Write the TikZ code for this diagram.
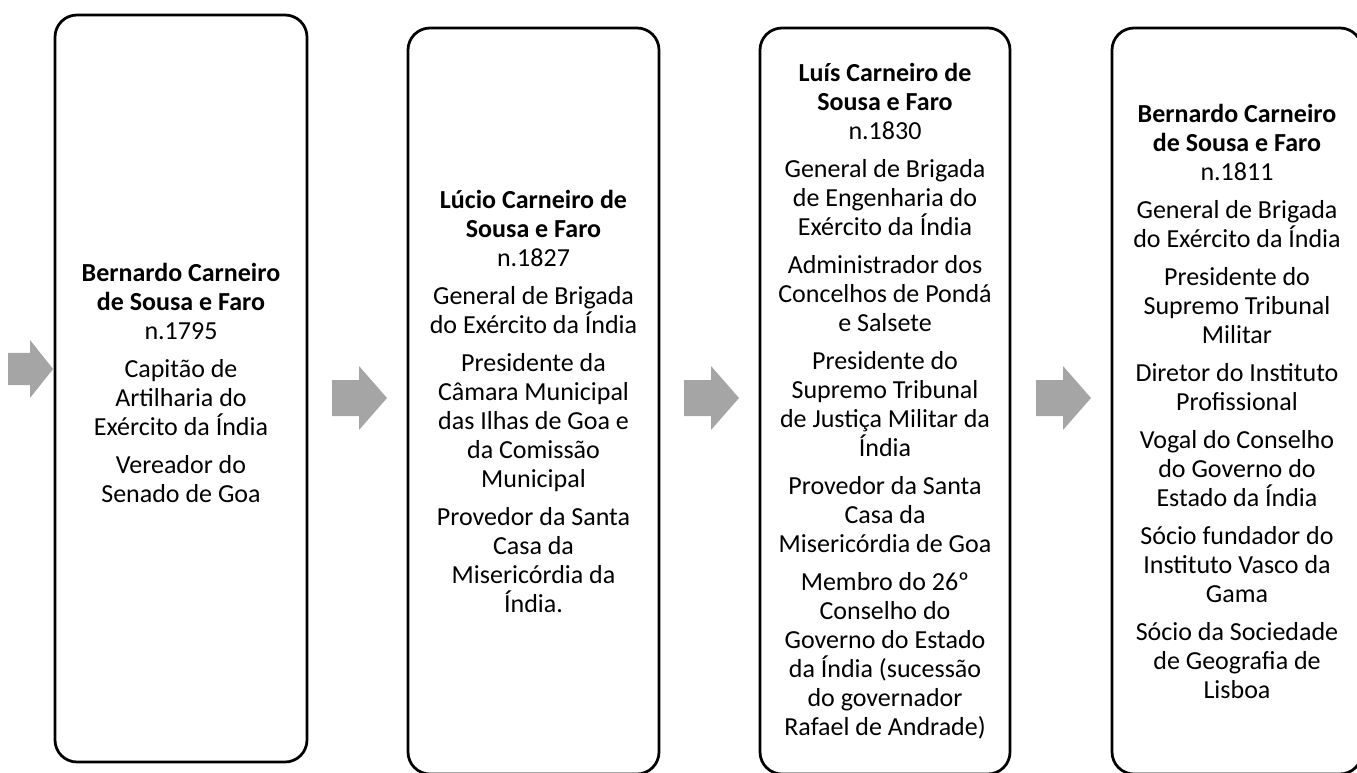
\documentclass[tikz,border=0pt]{standalone}
\usepackage{fontspec}
\setmainfont{Carlito}
\usetikzlibrary{positioning}
\definecolor{setagray}{HTML}{A5A5A5}

\begin{document}
\begin{tikzpicture}[x=1pt, y=-1pt,
    pessoa/.style={draw=black, line width=2.75pt, rounded corners=22pt, align=center,
        minimum width=250pt, minimum height=746pt, inner sep=0pt,
        font=\fontsize{26}{29}\selectfont},
    texto/.style={align=center, inner sep=0pt, font=\fontsize{26}{29}\selectfont},
    seta/.pic={\fill[setagray] (0,-18) -- (27,-18) -- (27,-32) -- (55,0) -- (27,32) -- (27,18) -- (0,18) -- cycle;}]

\useasboundingbox (0,0) rectangle (1357,772);
\clip (0,0) rectangle (1357,772);

% geracoes
\node[pessoa, minimum width=252pt, minimum height=747pt] (bernardo) at (181,388.5) {};
\node[texto] (bernardoTxt) at (181,383)
    {\textbf{Bernardo Carneiro}\\\textbf{de Sousa e Faro}\\n.1795\\[9pt]
     Capitão de\\Artilharia do\\Exército da Índia\\[9pt]
     Vereador do\\Senado de Goa};
\node[pessoa, minimum width=251pt] (lucio) at (533.5,401)
    {\textbf{Lúcio Carneiro de}\\\textbf{Sousa e Faro}\\n.1827\\[9pt]
     General de Brigada\\do Exército da Índia\\[9pt]
     Presidente da\\Câmara Municipal\\das Ilhas de Goa e\\da Comissão\\Municipal\\[9pt]
     Provedor da Santa\\Casa da\\Misericórdia da\\Índia.};
\node[pessoa] (luis) at (885,401)
    {\textbf{Luís Carneiro de}\\\textbf{Sousa e Faro}\\n.1830\\[9pt]
     General de Brigada\\de Engenharia do\\Exército da Índia\\[9pt]
     Administrador dos\\Concelhos de Pondá\\e Salsete\\[9pt]
     Presidente do\\Supremo Tribunal\\de Justiça Militar da\\Índia\\[9pt]
     Provedor da Santa\\Casa da\\Misericórdia de Goa\\[9pt]
     Membro do 26º\\Conselho do\\Governo do Estado\\da Índia (sucessão\\do governador\\Rafael de Andrade)};
\node[pessoa] (bernardoB) at (1237,401)
    {\textbf{Bernardo Carneiro}\\\textbf{de Sousa e Faro}\\n.1811\\[9pt]
     General de Brigada\\do Exército da Índia\\[9pt]
     Presidente do\\Supremo Tribunal\\Militar\\[9pt]
     Diretor do Instituto\\Profissional\\[9pt]
     Vogal do Conselho\\do Governo do\\Estado da Índia\\[9pt]
     Sócio fundador do\\Instituto Vasco da\\Gama\\[9pt]
     Sócio da Sociedade\\de Geografia de\\Lisboa};

% setas
\pic[xscale=0.82, yscale=0.9] at (8,369) {seta};
\pic at (332,398) {seta};
\pic at (684,398) {seta};
\pic at (1036,398) {seta};

\end{tikzpicture}
\end{document}
